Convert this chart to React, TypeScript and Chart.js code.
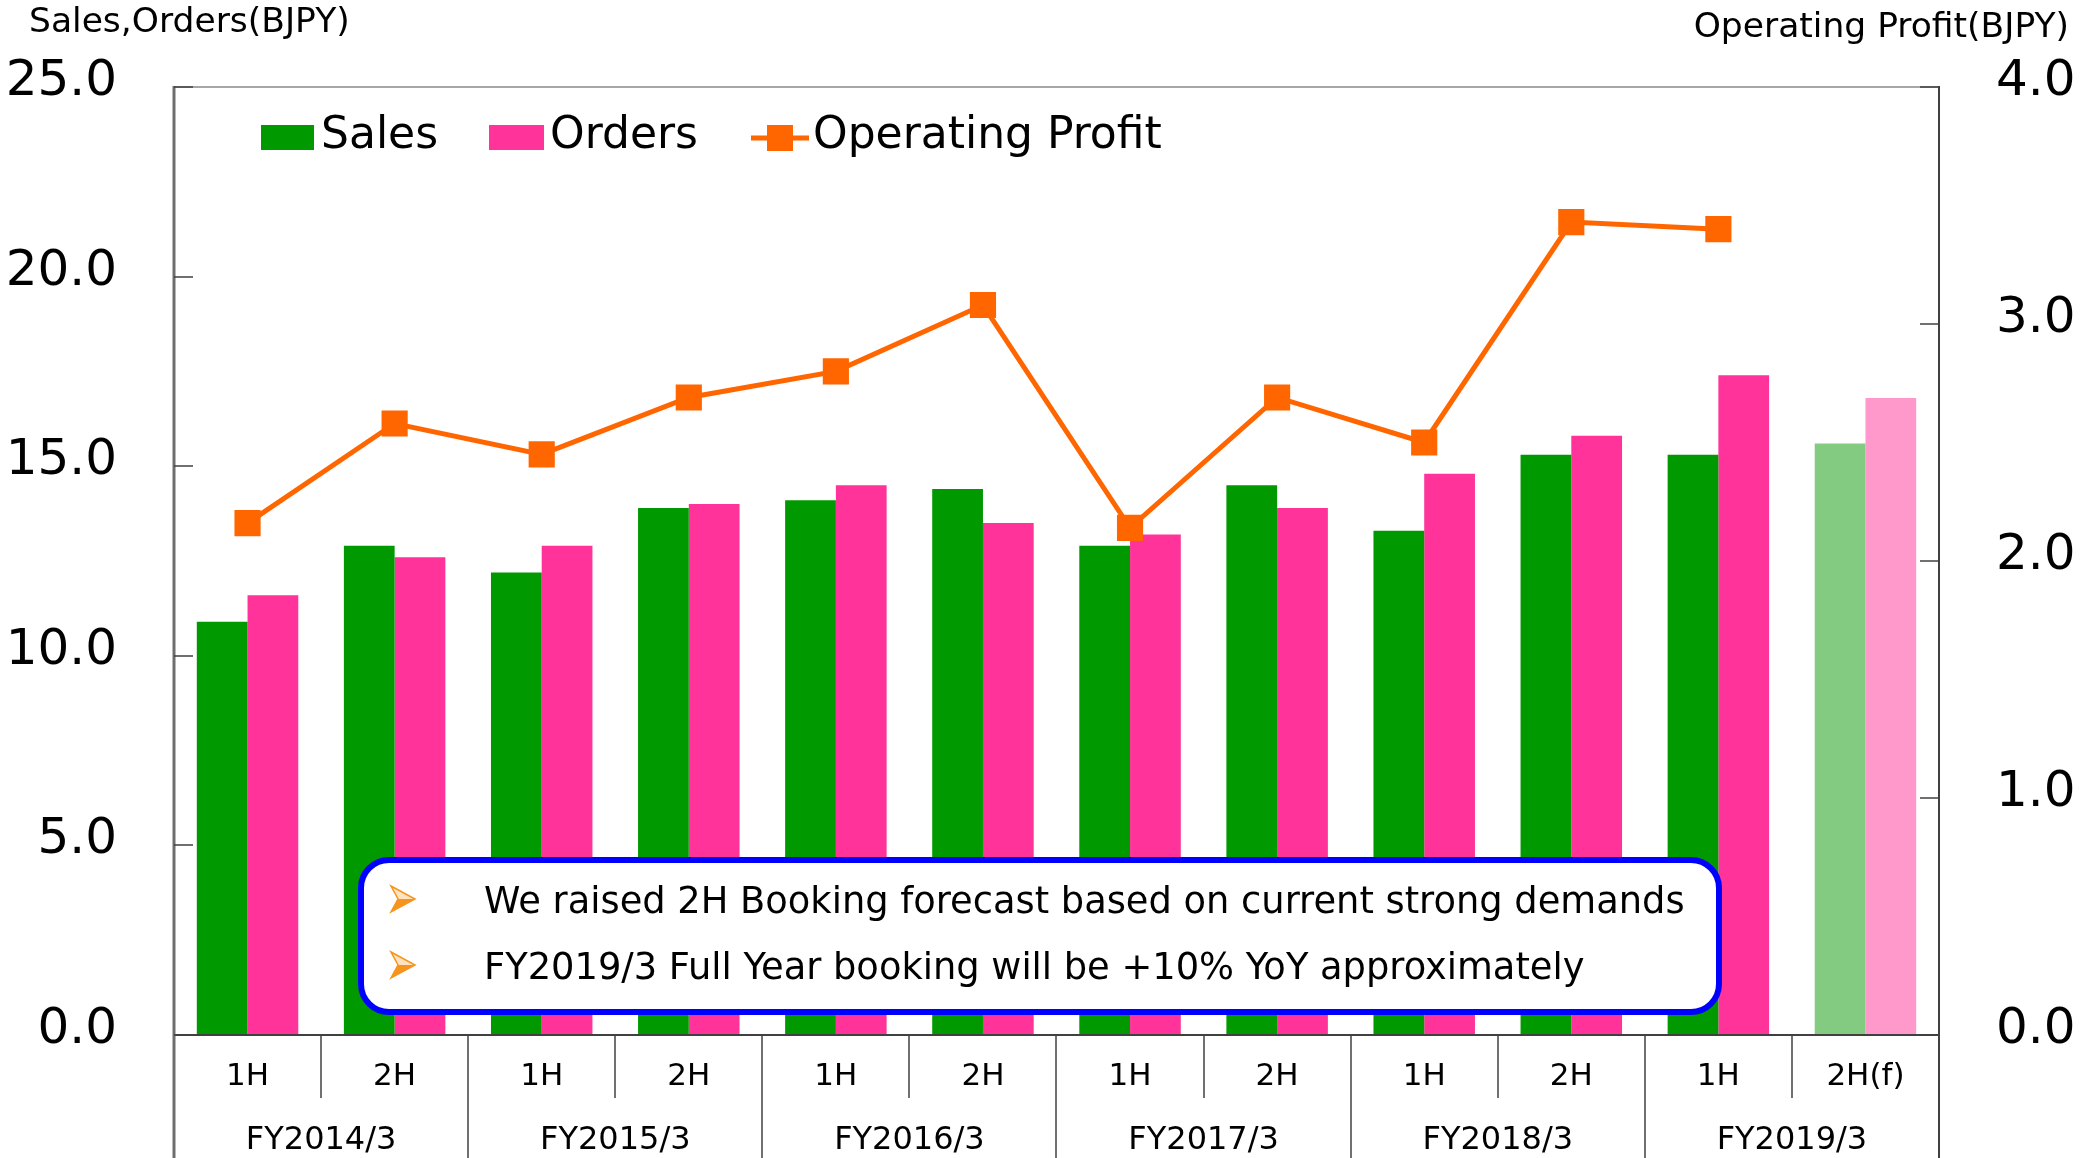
import React, { useEffect, useRef } from 'react';
import { Chart, registerables } from 'chart.js';

Chart.register(...registerables);

const halfLabels = ['1H', '2H', '1H', '2H', '1H', '2H', '1H', '2H', '1H', '2H', '1H', '2H(f)'];
const fyLabels = ['FY2014/3', 'FY2015/3', 'FY2016/3', 'FY2017/3', 'FY2018/3', 'FY2019/3'];
const salesValues = [10.9, 12.9, 12.2, 13.9, 14.1, 14.4, 12.9, 14.5, 13.3, 15.3, 15.3, 15.6];
const ordersValues = [11.6, 12.6, 12.9, 14.0, 14.5, 13.5, 13.2, 13.9, 14.8, 15.8, 17.4, 16.8];
const profitValues = [2.16, 2.58, 2.45, 2.69, 2.8, 3.08, 2.14, 2.69, 2.5, 3.43, 3.4, null];
const leftTicks = [0, 5, 10, 15, 20, 25];
const rightTicks = [0, 1, 2, 3, 4];
const leftAxisTitle = 'Sales,Orders(BJPY)';
const rightAxisTitle = 'Operating Profit(BJPY)';
const noteLines = [
  'We raised 2H Booking forecast based on current strong demands',
  'FY2019/3 Full Year booking will be +10% YoY approximately',
];

const FONT = '"DejaVu Sans", Verdana, sans-serif';
const GREEN = '#009900';
const GREEN_F = '#82CB80';
const PINK = '#FF3399';
const PINK_F = '#FF99CC';
const ORANGE = '#FF6600';

const isForecast = halfLabels.map((l) => l.includes('(f)'));

function line(ctx: CanvasRenderingContext2D, x1: number, y1: number, x2: number, y2: number) {
  ctx.beginPath();
  ctx.moveTo(x1, y1);
  ctx.lineTo(x2, y2);
  ctx.stroke();
}

function roundRect(ctx: CanvasRenderingContext2D, x: number, y: number, w: number, h: number, r: number) {
  ctx.beginPath();
  ctx.moveTo(x + r, y);
  ctx.lineTo(x + w - r, y);
  ctx.arcTo(x + w, y, x + w, y + r, r);
  ctx.lineTo(x + w, y + h - r);
  ctx.arcTo(x + w, y + h, x + w - r, y + h, r);
  ctx.lineTo(x + r, y + h);
  ctx.arcTo(x, y + h, x, y + h - r, r);
  ctx.lineTo(x, y + r);
  ctx.arcTo(x, y, x + r, y, r);
  ctx.closePath();
}

function drawArrow(ctx: CanvasRenderingContext2D, x: number, cy: number) {
  ctx.save();
  ctx.fillStyle = '#FFE2BF';
  ctx.beginPath();
  ctx.moveTo(x, cy - 13);
  ctx.lineTo(x + 24, cy);
  ctx.lineTo(x + 7, cy);
  ctx.closePath();
  ctx.fill();
  ctx.fillStyle = '#F7941D';
  ctx.beginPath();
  ctx.moveTo(x, cy + 13);
  ctx.lineTo(x + 24, cy);
  ctx.lineTo(x + 7, cy);
  ctx.closePath();
  ctx.fill();
  ctx.strokeStyle = '#F7941D';
  ctx.lineWidth = 1.5;
  ctx.beginPath();
  ctx.moveTo(x, cy - 13);
  ctx.lineTo(x + 24, cy);
  ctx.lineTo(x, cy + 13);
  ctx.lineTo(x + 7, cy);
  ctx.closePath();
  ctx.stroke();
  ctx.restore();
}

const decorPlugin = {
  id: 'decor',
  afterDraw(chart: any) {
    const ctx: CanvasRenderingContext2D = chart.ctx;
    const { left, right, top, bottom } = chart.chartArea;
    const xs = chart.scales.x;
    const yL = chart.scales.y;
    const yR = chart.scales.y1;
    const H = chart.height;
    ctx.save();

    // frame
    ctx.strokeStyle = '#A6A6A6';
    ctx.lineWidth = 2;
    line(ctx, left, top, right, top);
    ctx.strokeStyle = '#404040';
    ctx.lineWidth = 2;
    line(ctx, left, yL.getPixelForValue(0), right, yL.getPixelForValue(0));
    ctx.strokeStyle = '#6E6E6E';
    ctx.lineWidth = 3;
    line(ctx, left, top - 1, left, H);
    ctx.strokeStyle = '#404040';
    ctx.lineWidth = 2;
    line(ctx, right, top - 1, right, H);

    // inward ticks
    ctx.strokeStyle = '#404040';
    ctx.lineWidth = 1.5;
    leftTicks.forEach((v) => {
      const y = Math.round(yL.getPixelForValue(v));
      line(ctx, left, y, left + 19, y);
    });
    rightTicks.forEach((v) => {
      const y = Math.round(yR.getPixelForValue(v));
      line(ctx, right - 19, y, right, y);
    });

    // x table
    const half = (xs.getPixelForValue(1) - xs.getPixelForValue(0)) / 2;
    ctx.strokeStyle = '#404040';
    ctx.lineWidth = 1.5;
    for (let i = 1; i < halfLabels.length; i++) {
      const xb = Math.round(xs.getPixelForValue(i) - half);
      line(ctx, xb, bottom, xb, i % 2 === 0 ? H : bottom + 63);
    }
    ctx.fillStyle = '#000';
    ctx.textAlign = 'center';
    ctx.textBaseline = 'alphabetic';
    ctx.font = `31px ${FONT}`;
    halfLabels.forEach((l, i) => {
      ctx.fillText(l, xs.getPixelForValue(i), bottom + 50);
    });
    ctx.font = `32px ${FONT}`;
    fyLabels.forEach((l, g) => {
      const cx = (xs.getPixelForValue(2 * g) + xs.getPixelForValue(2 * g + 1)) / 2;
      ctx.fillText(l, cx, bottom + 114);
    });

    // axis titles
    ctx.font = `34.5px ${FONT}`;
    ctx.textAlign = 'left';
    ctx.fillText(leftAxisTitle, 29, 32);
    ctx.textAlign = 'right';
    ctx.fillText(rightAxisTitle, 2069, 37);

    // legend
    const ds = chart.data.datasets;
    ctx.font = `44px ${FONT}`;
    ctx.textAlign = 'left';
    const base = 148;
    ctx.fillStyle = GREEN;
    ctx.fillRect(left + 87, 125, 53, 25);
    ctx.fillStyle = '#000';
    ctx.fillText(ds[0].label, left + 147, base);
    ctx.fillStyle = PINK;
    ctx.fillRect(left + 315, 125, 55, 25);
    ctx.fillStyle = '#000';
    ctx.fillText(ds[1].label, left + 376, base);
    ctx.strokeStyle = ORANGE;
    ctx.lineWidth = 5;
    line(ctx, left + 577, 138, left + 635, 138);
    ctx.fillStyle = ORANGE;
    ctx.fillRect(left + 593, 125, 26, 26);
    ctx.fillStyle = '#000';
    ctx.fillText(ds[2].label, left + 639, base);

    // annotation
    const bx = 361, by = 860, bw = 1358, bh = 152;
    roundRect(ctx, bx, by, bw, bh, 28);
    ctx.fillStyle = '#FFFFFF';
    ctx.fill();
    ctx.strokeStyle = '#0000FF';
    ctx.lineWidth = 6;
    ctx.stroke();
    ctx.font = `36.8px ${FONT}`;
    ctx.fillStyle = '#000';
    ctx.textAlign = 'left';
    const baselines = [913, 979];
    noteLines.forEach((t, i) => {
      drawArrow(ctx, 391, baselines[i] - 14);
      ctx.fillText(t, 484, baselines[i]);
    });

    ctx.restore();
  },
};

export default function App() {
  const ref = useRef<HTMLCanvasElement>(null);
  useEffect(() => {
    document.body.style.margin = '0';
    const chart = new Chart(ref.current as HTMLCanvasElement, {
      type: 'bar',
      data: {
        labels: halfLabels,
        datasets: [
          {
            type: 'bar',
            label: 'Sales',
            data: salesValues,
            yAxisID: 'y',
            backgroundColor: isForecast.map((f) => (f ? GREEN_F : GREEN)),
            borderWidth: 0,
            categoryPercentage: 0.69,
            barPercentage: 1,
            order: 1,
          },
          {
            type: 'bar',
            label: 'Orders',
            data: ordersValues,
            yAxisID: 'y',
            backgroundColor: isForecast.map((f) => (f ? PINK_F : PINK)),
            borderWidth: 0,
            categoryPercentage: 0.69,
            barPercentage: 1,
            order: 1,
          },
          {
            type: 'line',
            label: 'Operating Profit',
            data: profitValues as any,
            yAxisID: 'y1',
            borderColor: ORANGE,
            backgroundColor: ORANGE,
            pointBackgroundColor: ORANGE,
            pointBorderWidth: 0,
            borderWidth: 5,
            pointStyle: 'rect',
            pointRadius: 18.5,
            tension: 0,
            order: 0,
          } as any,
        ],
      },
      options: {
        responsive: false,
        animation: false,
        devicePixelRatio: 1,
        layout: { padding: { top: 84, bottom: 123, left: 0, right: 0 } },
        plugins: {
          legend: { display: false },
          tooltip: { enabled: false },
        },
        scales: {
          x: { display: false, offset: true, grid: { display: false } },
          y: {
            position: 'left',
            min: 0,
            max: 25,
            afterFit: (s: any) => {
              s.width = 174;
            },
            afterBuildTicks: (s: any) => {
              s.ticks = leftTicks.map((v) => ({ value: v }));
            },
            grid: { display: false, drawTicks: false },
            border: { display: false },
            ticks: {
              padding: 57,
              labelOffset: -5,
              color: '#000',
              font: { family: FONT, size: 50 },
              callback: (v: any) => Number(v).toFixed(1),
            },
          },
          y1: {
            position: 'right',
            min: 0,
            max: 4,
            afterFit: (s: any) => {
              s.width = 141;
            },
            afterBuildTicks: (s: any) => {
              s.ticks = rightTicks.map((v) => ({ value: v }));
            },
            grid: { display: false, drawTicks: false },
            border: { display: false },
            ticks: {
              padding: 57,
              labelOffset: -5,
              color: '#000',
              font: { family: FONT, size: 50 },
              callback: (v: any) => Number(v).toFixed(1),
            },
          },
        } as any,
      },
      plugins: [decorPlugin],
    });
    return () => chart.destroy();
  }, []);
  return (
    <div style={{ width: 2080, height: 1158 }}>
      <canvas ref={ref} width={2080} height={1158} style={{ display: 'block', width: 2080, height: 1158 }} />
    </div>
  );
}
